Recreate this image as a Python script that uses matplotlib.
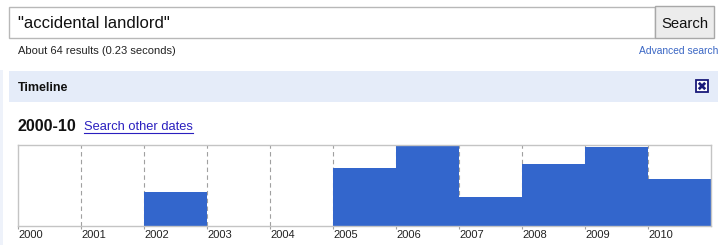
import matplotlib.pyplot as plt
from matplotlib.patches import Rectangle

plt.rcParams['font.family'] = ['Liberation Sans', 'DejaVu Sans']

# timeline data (relative result volume per year)
years = [2000, 2001, 2002, 2003, 2004, 2005, 2006, 2007, 2008, 2009, 2010]
values = [0, 0, 0.42, 0, 0, 0.72, 1.0, 0.36, 0.76, 0.98, 0.58]
year_labels = [str(y) for y in years]

query = '"accidental landlord"'
stats = 'About 64 results (0.23 seconds)'
period = '2000-10'

W, H = 724, 245
fig = plt.figure(figsize=(W / 100, H / 100), dpi=100)
fig.patch.set_facecolor('white')

# page layer in pixel coords (y downwards)
page = fig.add_axes([0, 0, 1, 1])
page.set_xlim(0, W)
page.set_ylim(H, 0)
page.axis('off')

# faint left border strip
page.add_patch(Rectangle((0, 70), 3, H - 70, color='#eef2fa', lw=0))

# search box + button
page.add_patch(Rectangle((8.5, 7.5), 646, 31, fc='white', ec='#b8b8b8', lw=1))
page.add_patch(Rectangle((655, 6.5), 59, 32, fc='#ececec', ec='#a8a8a8', lw=1))
page.text(18, 28, query, fontsize=12, color='#111111', va='baseline')
page.text(684.5, 28, 'Search', fontsize=10.7, color='#111111', va='baseline', ha='center')

page.text(18, 54, stats, fontsize=8, color='#222222', va='baseline')
page.text(718, 54, 'Advanced search', fontsize=7.4, color='#3a66c4', va='baseline', ha='right')

# timeline header band
page.add_patch(Rectangle((9, 71), 709, 30.5, color='#e5ecf9', lw=0))
page.text(18, 91, 'Timeline', fontsize=9, fontweight='bold', color='#111111', va='baseline')
# close box
page.add_patch(Rectangle((696, 80), 12, 12, fc='white', ec='#1a1a7a', lw=1.3))
page.plot([698.8, 705.2], [82.8, 89.2], color='#1a1a7a', lw=2, solid_capstyle='butt')
page.plot([698.8, 705.2], [89.2, 82.8], color='#1a1a7a', lw=2, solid_capstyle='butt')

page.text(18, 131, period, fontsize=11.5, fontweight='bold', color='#111111', va='baseline')
page.text(84, 130, 'Search other dates', fontsize=9.3, color='#2a1fbf', va='baseline')
page.plot([84, 193], [132.5, 132.5], color='#2a1fbf', lw=0.8)

# the timeline chart itself
ax = fig.add_axes([18 / W, (H - 226) / H, (711 - 18) / W, 81 / H])
ax.bar(years, values, width=1, align='edge', color='#3366cc', zorder=2)
ax.set_xlim(2000, 2011)
ax.set_ylim(0, 1)
for y in years[1:]:
    ax.axvline(y, color='#a0a0a0', lw=0.8, ls=(0, (4, 3)), zorder=1)
for s in ax.spines.values():
    s.set_color('#c4c4c4')
    s.set_linewidth(1)
ax.set_yticks([])
ax.set_xticks(years)
ax.set_xticklabels(year_labels, fontsize=8, color='#222222', ha='left')
ax.tick_params(axis='x', length=2, color='#a0a0a0', pad=1)

fig.savefig('out.png', dpi=100)
